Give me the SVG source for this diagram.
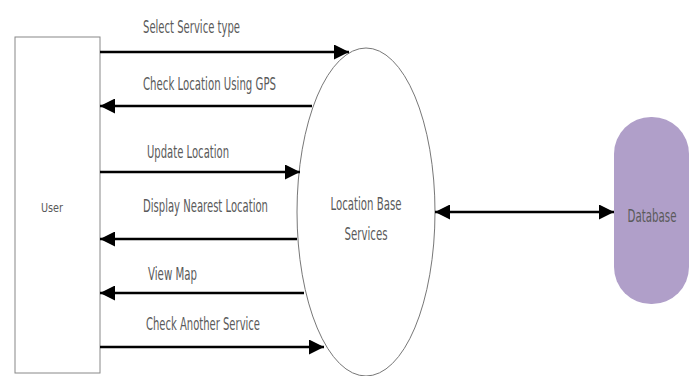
<svg xmlns="http://www.w3.org/2000/svg" width="694" height="376" viewBox="0 0 694 376">
<style>
text{font-family:"DejaVu Sans","Liberation Sans",sans-serif;font-size:18px;fill:#5a5a5a}
.c{stroke:#000;stroke-width:2.5;fill:none}
</style>
<defs>
<marker id="ah" viewBox="0 0 10 10" refX="10" refY="5" markerWidth="6" markerHeight="6" markerUnits="strokeWidth" orient="auto-start-reverse"><path d="M0,0L10,5L0,10z" fill="#000"/></marker>
</defs>
<rect width="694" height="376" fill="#fff"/>
<g id="user"><rect x="15" y="37" width="85" height="336" fill="#fff" stroke="#888" stroke-width="1"/><text transform="translate(41,212) scale(0.6,1)" style="font-size:12px" textLength="36.7" lengthAdjust="spacingAndGlyphs">User</text></g>
<g id="lbs"><ellipse cx="366" cy="212" rx="69" ry="164" fill="#fff" stroke="#777" stroke-width="1"/><text transform="translate(366,210) scale(0.6,1)" text-anchor="middle" style="font-size:17px" textLength="118.3" lengthAdjust="spacingAndGlyphs">Location Base</text><text transform="translate(366,240) scale(0.6,1)" text-anchor="middle" style="font-size:17px" textLength="71.7" lengthAdjust="spacingAndGlyphs">Services</text></g>
<g id="db"><rect x="614" y="117" width="75" height="187" rx="37" ry="37" fill="#b09fc9"/><text transform="translate(652,222) scale(0.6,1)" text-anchor="middle" style="font-size:17px" textLength="81.7" lengthAdjust="spacingAndGlyphs" fill="#3f3650">Database</text></g>
<g id="connectors">
<line class="c" x1="100" y1="52" x2="349" y2="52" marker-end="url(#ah)"/>
<text transform="translate(143,33) scale(0.6,1)" textLength="161.7" lengthAdjust="spacingAndGlyphs">Select Service type</text>
<line class="c" x1="312" y1="106" x2="100" y2="106" marker-end="url(#ah)"/>
<text transform="translate(143,90) scale(0.6,1)" textLength="221.7" lengthAdjust="spacingAndGlyphs">Check Location Using GPS</text>
<line class="c" x1="100" y1="172" x2="300" y2="172" marker-end="url(#ah)"/>
<text transform="translate(147,158) scale(0.6,1)" textLength="136.7" lengthAdjust="spacingAndGlyphs">Update Location</text>
<line class="c" x1="297" y1="239" x2="100" y2="239" marker-end="url(#ah)"/>
<text transform="translate(143,212) scale(0.6,1)" textLength="208.3" lengthAdjust="spacingAndGlyphs">Display Nearest Location</text>
<line class="c" x1="304" y1="293" x2="100" y2="293" marker-end="url(#ah)"/>
<text transform="translate(148,280) scale(0.6,1)" textLength="81.7" lengthAdjust="spacingAndGlyphs">View Map</text>
<line class="c" x1="100" y1="347" x2="324" y2="347" marker-end="url(#ah)"/>
<text transform="translate(146,330) scale(0.6,1)" textLength="190" lengthAdjust="spacingAndGlyphs">Check Another Service</text>
<line class="c" x1="435" y1="212" x2="614" y2="212" marker-start="url(#ah)" marker-end="url(#ah)"/>
</g>
</svg>
